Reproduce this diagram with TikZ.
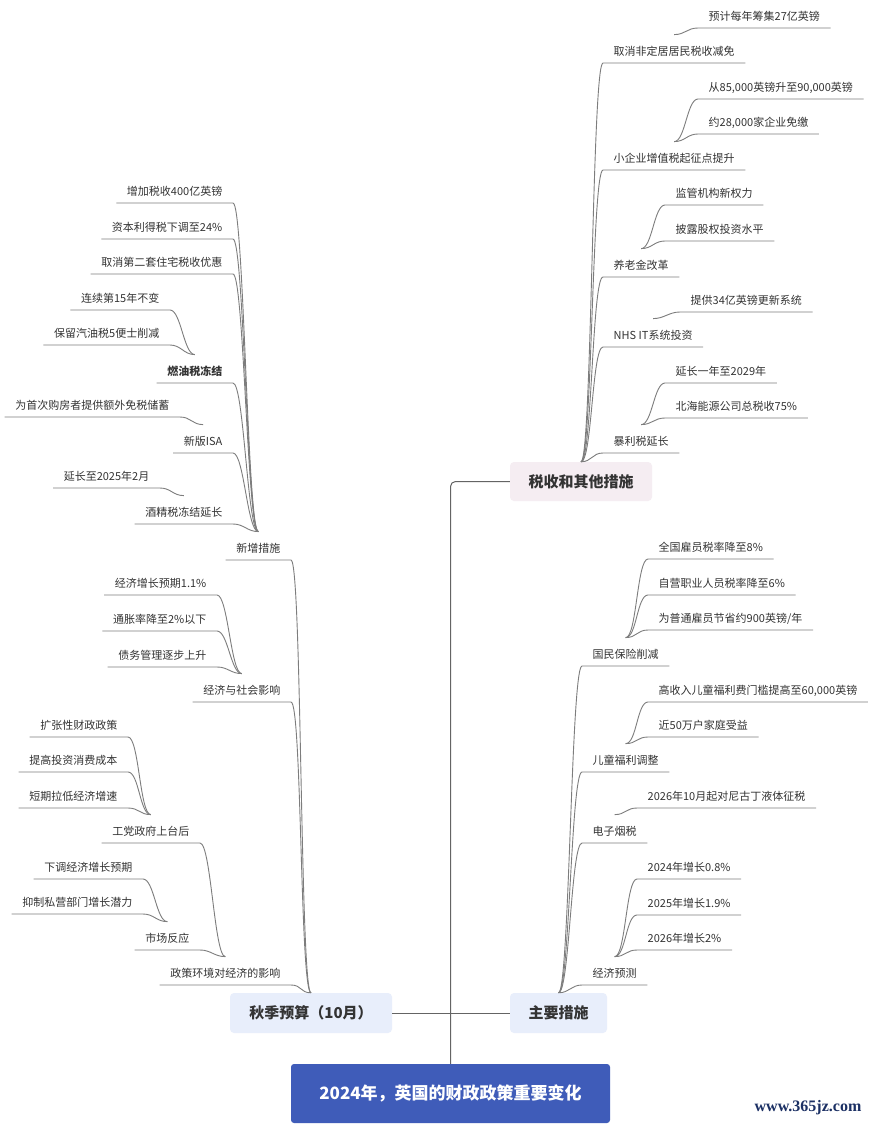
\documentclass[tikz,border=0pt]{standalone}
\usepackage{fontspec}
\setmainfont{Noto Sans CJK SC}
\newfontfamily\markfont{Liberation Serif}
\usetikzlibrary{calc}
\definecolor{rootblue}{RGB}{63,92,185}
\definecolor{taxpink}{RGB}{245,237,242}
\definecolor{budgetblue}{RGB}{232,238,251}
\definecolor{textdark}{RGB}{51,51,51}
\definecolor{linegray}{RGB}{125,125,125}
\definecolor{markblue}{RGB}{28,48,100}

\tikzset{
  leaf/.style={font=\fontsize{11}{13}\selectfont, text=textdark, inner xsep=10.5pt,
    inner ysep=0pt, minimum height=28pt, text height=12.5pt, text depth=0pt},
  link/.style={draw=linegray, line width=0.9pt},
  topic/.style={rounded corners=4pt, font=\fontsize{15}{18}\selectfont\bfseries,
    text=textdark, inner sep=0pt, minimum height=40pt},
  trunk/.style={draw=linegray!80!black, line width=1pt}
}

\begin{document}
\begin{tikzpicture}[x=1pt, y=-1pt]
  \path[use as bounding box, fill=white] (0,0) rectangle (873,1124);

  % centre and the three main topics
  \node[topic, fill=rootblue, text=white, rounded corners=3pt, minimum width=319pt,
        minimum height=59pt, font=\fontsize{17}{20}\selectfont\bfseries]
        (root) at (450.5,1093.5) {2024年，英国的财政政策重要变化};
  \node[topic, fill=taxpink, minimum width=142pt, minimum height=39pt] (tax) at (581,481.5) {税收和其他措施};
  \node[topic, fill=budgetblue, minimum width=162pt] (autumn) at (311,1013) {秋季预算（10月）};
  \node[topic, fill=budgetblue, minimum width=97pt] (mainm) at (558.5,1013) {主要措施};

  \draw[trunk, rounded corners=5pt] (root.north) |- (tax.west);
  \draw[trunk] (autumn.east) -- (mainm.west);

  % right side branches
  \foreach \p/\n/\x/\y/\name in {
      tax/tA/603/63/取消非定居居民税收减免,
      tax/tB/603/170/小企业增值税起征点提升,
      tax/tC/603/277/养老金改革,
      tax/tD/603/347/NHS IT系统投资,
      tax/tE/603/453/暴利税延长,
      tA/tA1/698/28/预计每年筹集27亿英镑,
      tB/tB1/698/99/{从85,000英镑升至90,000英镑},
      tB/tB2/698/134/{约28,000家企业免缴},
      tC/tC1/665/205/监管机构新权力,
      tC/tC2/665/241/披露股权投资水平,
      tD/tD1/680/312/提供34亿英镑更新系统,
      tE/tE1/665/383/延长一年至2029年,
      tE/tE2/665/418/北海能源公司总税收75\%,
      mainm/mA/582/666/国民保险削减,
      mainm/mB/582/772/儿童福利调整,
      mainm/mC/582/843/电子烟税,
      mainm/mD/582/985/经济预测,
      mA/mA1/648/559/全国雇员税率降至8\%,
      mA/mA2/648/595/自营职业人员税率降至6\%,
      mA/mA3/648/630/{为普通雇员节省约900英镑/年},
      mB/mB1/648/702/{高收入儿童福利费门槛提高至60,000英镑},
      mB/mB2/648/737/近50万户家庭受益,
      mC/mC1/637/808/2026年10月起对尼古丁液体征税,
      mD/mD1/637/879/2024年增长0.8\%,
      mD/mD2/637/915/2025年增长1.9\%,
      mD/mD3/637/950/2026年增长2\%} {
    \node[leaf, anchor=south west] (\n) at (\x,\y) {\name};
    \draw[link] (\p.north) .. controls +(11,0) and +(-11,0) .. (\n.south west)
                -- (\n.south east);
  }

  % left side branches
  \foreach \p/\n/\x/\y/\name in {
      autumn/aA/291/560/新增措施,
      autumn/aB/291/702/经济与社会影响,
      autumn/aC/291/985/政策环境对经济的影响,
      aA/aA1/233/203/增加税收400亿英镑,
      aA/aA2/233/239/资本利得税下调至24\%,
      aA/aA3/233/274/取消第二套住宅税收优惠,
      aA/aA4/233/383/{\bfseries 燃油税冻结},
      aA/aA5/233/453/新版ISA,
      aA/aA6/233/524/酒精税冻结延长,
      aA4/aA41/170/310/连续第15年不变,
      aA4/aA42/170/345/保留汽油税5便士削减,
      aA5/aA51/180/417/为首次购房者提供额外免税储蓄,
      aA6/aA61/160/488/延长至2025年2月,
      aB/aB1/217/595/经济增长预期1.1\%,
      aB/aB2/217/631/通胀率降至2\%以下,
      aB/aB3/217/667/债务管理逐步上升,
      aC/aC1/200/843/工党政府上台后,
      aC/aC2/200/950/市场反应,
      aC1/aC11/128/737/扩张性财政政策,
      aC1/aC12/128/772/提高投资消费成本,
      aC1/aC13/128/808/短期拉低经济增速,
      aC2/aC21/143/879/下调经济增长预期,
      aC2/aC22/143/914/抑制私营部门增长潜力} {
    \node[leaf, anchor=south east] (\n) at (\x,\y) {\name};
    \draw[link] (\p.north) .. controls +(-11,0) and +(11,0) .. (\n.south east)
                -- (\n.south west);
  }

  \node[font=\markfont\fontsize{16}{18}\selectfont\bfseries, text=markblue] (mark) at (808,1108) {www.365jz.com};
\end{tikzpicture}
\end{document}
